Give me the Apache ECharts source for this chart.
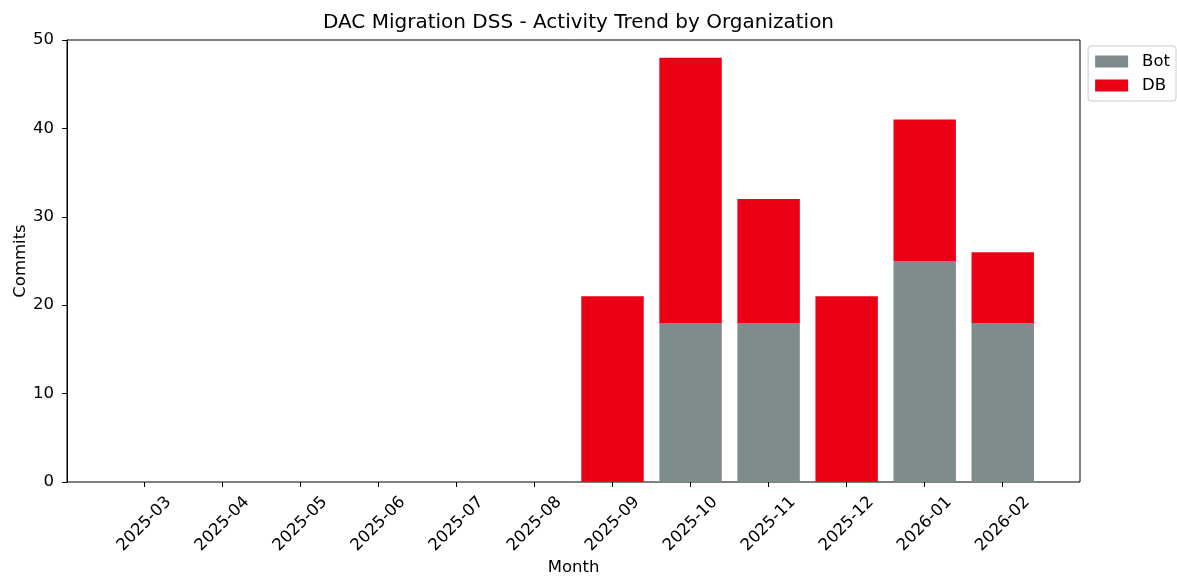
<!DOCTYPE html>
<html><head><meta charset="utf-8">
<script src="https://cdn.jsdelivr.net/npm/echarts@6/dist/echarts.min.js"></script>
<style>html,body{margin:0;padding:0;background:#fff}#c{width:1177px;height:579px}</style>
</head><body><div id="c"></div>
<script>
const categories = ["2025-03","2025-04","2025-05","2025-06","2025-07","2025-08","2025-09","2025-10","2025-11","2025-12","2026-01","2026-02"];
const botValues = [0,0,0,0,0,0,0,18,18,0,25,18];
const dbValues = [0,0,0,0,0,0,21,30,14,21,16,8];
const yTicks = [0,10,20,30,40,50];

const font = "DejaVu Sans";
const fs = 16.5;
// frame spans -0.99 .. 11.99 category units (matplotlib margins); bar grid uses 0.5 margins
const frameL = 67, frameR = 1080;
const unit = (frameR - frameL) / 12.98;
const barL = frameL + (0.99 - 0.5) * unit;
const barR = frameR - (0.99 - 0.5) * unit;

const chart = echarts.init(document.getElementById('c'), null, {renderer: 'canvas'});
chart.setOption({
  animation: false,
  textStyle: {fontFamily: font},
  title: {text: "DAC Migration DSS - Activity Trend by Organization", left: 573.5, textAlign: 'center', top: 8,
    textStyle: {fontFamily: font, fontSize: 20, fontWeight: 'normal', color: '#000'}},
  legend: {orient: 'vertical', right: 1, top: 46, itemWidth: 33, itemHeight: 12, itemGap: 7,
    padding: [7, 6, 7, 7], borderColor: '#cccccc', borderWidth: 1, borderRadius: 3,
    textStyle: {fontFamily: font, fontSize: fs, color: '#000', padding: [0, 0, 0, 9]},
    data: [{name: 'Bot', icon: 'rect'}, {name: 'DB', icon: 'rect'}]},
  grid: [
    {left: frameL, right: 1177 - frameR, top: 40, bottom: 97, outerBoundsMode: 'none', containLabel: false,
      show: true, borderColor: '#000', borderWidth: 1, backgroundColor: 'transparent'},
    {left: barL, right: 1177 - barR, top: 40, bottom: 97, outerBoundsMode: 'none', containLabel: false}
  ],
  xAxis: [
    {type: 'value', gridIndex: 0, min: 0, max: 1, show: false},
    {type: 'category', gridIndex: 1, data: categories, name: 'Month', nameLocation: 'middle', nameGap: 77, nameMoveOverlap: false,
      nameTextStyle: {fontFamily: font, fontSize: fs, color: '#000'},
      axisLine: {show: false},
      axisTick: {show: true, alignWithLabel: true, inside: false, length: 5, lineStyle: {color: '#000'}},
      axisLabel: {interval: 0, rotate: 45, align: 'center', verticalAlign: 'middle', margin: 42,
        fontFamily: font, fontSize: fs, color: '#000'}}
  ],
  yAxis: [
    {type: 'value', gridIndex: 0, min: yTicks[0], max: yTicks[yTicks.length-1], interval: 10, name: 'Commits', nameLocation: 'middle', nameGap: 38, nameMoveOverlap: false,
      nameTextStyle: {fontFamily: font, fontSize: fs, color: '#000'},
      splitLine: {show: false},
      axisLine: {show: true, onZero: false, lineStyle: {color: '#000'}},
      axisTick: {show: true, inside: false, length: 5, lineStyle: {color: '#000'}},
      axisLabel: {fontFamily: font, fontSize: fs, color: '#000', margin: 13}},
    {type: 'value', gridIndex: 1, min: yTicks[0], max: yTicks[yTicks.length-1], interval: 10, show: false}
  ],
  series: [
    {name: 'Bot', type: 'bar', stack: 'total', xAxisIndex: 1, yAxisIndex: 1, barWidth: '80%', itemStyle: {color: '#7f8c8d'},
      data: botValues},
    {name: 'DB', type: 'bar', stack: 'total', xAxisIndex: 1, yAxisIndex: 1, barWidth: '80%', itemStyle: {color: '#ec0016'},
      data: dbValues}
  ]
});
</script></body></html>
